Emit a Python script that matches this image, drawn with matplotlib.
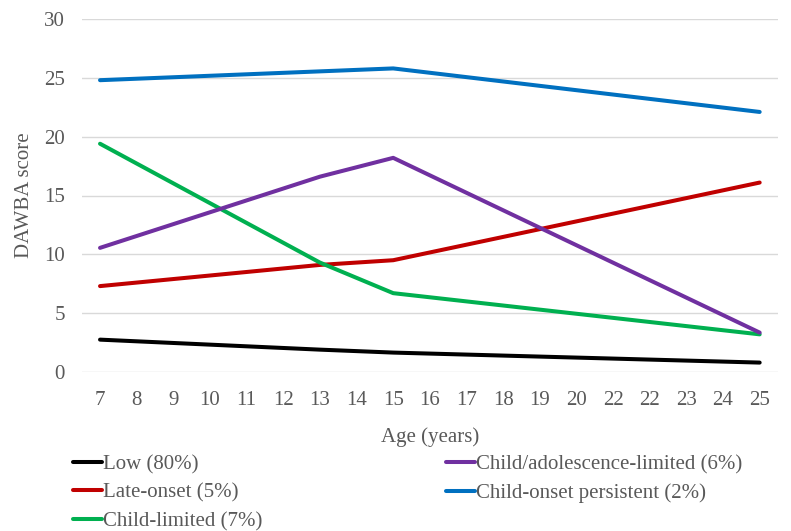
import numpy as np
import matplotlib
matplotlib.use("Agg")
import matplotlib.pyplot as plt

plt.rcParams['font.family'] = ['Liberation Serif', 'DejaVu Serif']

# tick labels as printed in the source (the second "22" is in the original)
ages = ['7', '8', '9', '10', '11', '12', '13', '14', '15', '16', '17', '18',
        '19', '20', '22', '22', '23', '24', '25']
nan = np.nan

# scores only at the measured ages (7, 13, 15, 25), gaps are connected
low = [2.75, nan, nan, nan, nan, nan, 1.9, nan, 1.65] + [nan] * 9 + [0.8]
late_onset = [7.3, nan, nan, nan, nan, nan, 9.1, nan, 9.5] + [nan] * 9 + [16.1]
child_limited = [19.4, nan, nan, nan, nan, nan, 9.3, nan, 6.7] + [nan] * 9 + [3.2]
child_adol = [10.55, nan, nan, nan, nan, nan, 16.6, nan, 18.2] + [nan] * 9 + [3.35]
child_persist = [24.8, nan, nan, nan, nan, nan, 25.55, nan, 25.8] + [nan] * 9 + [22.1]

series = [
    ('Low (80%)', low, '#000000'),
    ('Late-onset (5%)', late_onset, '#C00000'),
    ('Child-limited (7%)', child_limited, '#00B050'),
    ('Child/adolescence-limited (6%)', child_adol, '#7030A0'),
    ('Child-onset persistent (2%)', child_persist, '#0070C0'),
]

fig = plt.figure(figsize=(7.91, 5.31), dpi=100)
ax = fig.add_axes([81.7 / 791, 1 - 372 / 531, (778 - 81.7) / 791, (372 - 19) / 531])

x = np.arange(len(ages))
for name, vals, col in series:
    v = np.array(vals, dtype=float)
    m = ~np.isnan(v)
    ax.plot(x[m], v[m], color=col, lw=2.9, label=name, solid_capstyle='round')

ax.set_xlim(-0.5, len(ages) - 0.5)
ax.set_ylim(0, 30)
ax.set_yticks(range(0, 31, 5))
ax.set_xticks(x)
ax.set_xticklabels(ages)
ax.tick_params(length=0, labelsize=15, colors='#595959', pad=14)
ax.tick_params(axis='y', pad=12)
ax.grid(axis='y', color='#d9d9d9', lw=1)
ax.set_axisbelow(True)
for s in ax.spines.values():
    s.set_visible(False)

ax.set_xlabel('Age (years)', fontsize=15, color='#595959', labelpad=12)
ax.set_ylabel('DAWBA score', fontsize=15, color='#595959', labelpad=7)

fig.legend(loc='upper left', bbox_to_anchor=(54 / 791, 1 - 436 / 531), ncol=2,
           frameon=False, fontsize=15, handlelength=1.4, handletextpad=0.05,
           columnspacing=8.8, labelspacing=0.42, labelcolor='#595959')

fig.savefig('out.png', dpi=100)
